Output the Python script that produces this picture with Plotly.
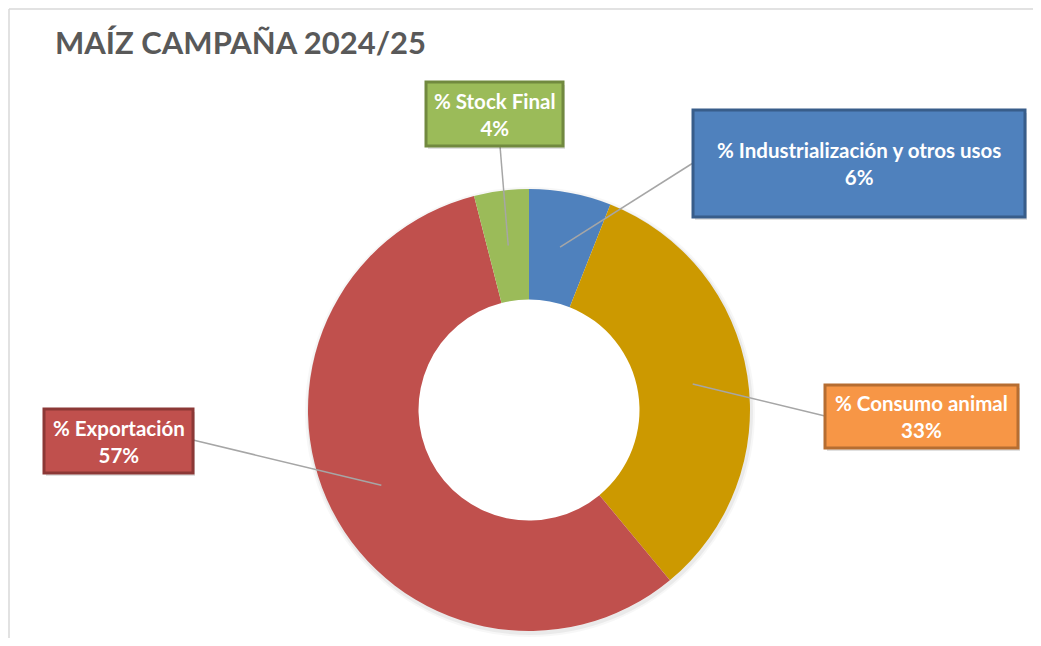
import math
import plotly.graph_objects as go

# the page body keeps an 8px margin, so the figure is drawn 8px in from the window corner
# and kept small enough that no scrollbar appears
OFF = 8
W, H = 1041 - 2 * OFF, 646 - 2 * OFF

# data (share of the 2024/25 maize campaign, %)
labels = ["Industrialización y otros usos", "Consumo animal", "Exportación", "Stock Final"]
values = [6, 33, 57, 4]
slice_colors = ["#4F81BD", "#CC9900", "#C0504D", "#9BBB59"]

# label boxes: (x0, y0, x1, y1) in window pixels, fill, border
box_pos = [(693, 110, 1025, 217), (825, 385, 1018, 448), (44, 409, 193, 473), (426, 82, 563, 146)]
box_fill = ["#4F81BD", "#F79646", "#C0504D", "#9BBB59"]
box_line = ["#385D8A", "#B66D31", "#8C3836", "#71893F"]
# where each leader line meets its box
box_hook = [(693, 163), (825, 416), (193, 440), (500, 146)]

# donut geometry in window pixels
pie_left, pie_right, pie_top, pie_bottom = 307, 751, 189, 631
hole = 0.5


def px(x):
    return (x - OFF) / W


def py(y):
    return 1 - (y - OFF) / H


fig = go.Figure()
fig.add_trace(go.Pie(
    labels=labels, values=values, hole=hole, sort=False, direction="clockwise", rotation=0,
    marker=dict(colors=slice_colors, line=dict(width=0)),
    textinfo="none", showlegend=False,
    hovertemplate="%{label}: %{value}%<extra></extra>",
    domain=dict(x=[px(pie_left), px(pie_right)], y=[py(pie_bottom), py(pie_top)]),
))

cx = (pie_left + pie_right) / 2
cy = (pie_top + pie_bottom) / 2
r_out = min(pie_right - pie_left, pie_bottom - pie_top) / 2
r_mid = r_out * (1 + hole) / 2

shapes = []
# chart frame: only its top and left edges fall inside the picture
frame = dict(color="#D9D9D9", width=1.5)
shapes.append(dict(type="line", xref="paper", yref="paper", x0=px(9), y0=py(9), x1=1.0, y1=py(9), line=frame, layer="below"))
shapes.append(dict(type="line", xref="paper", yref="paper", x0=px(9), y0=py(9), x1=px(9), y1=0.0, line=frame, layer="below"))
# soft shadow round the donut edge
for k, a in [(8, 0.03), (4, 0.05)]:
    shapes.append(dict(type="circle", xref="paper", yref="paper",
                       x0=px(cx - r_out + 1), x1=px(cx + r_out + 1),
                       y0=py(cy + r_out + 2), y1=py(cy - r_out + 2),
                       line=dict(width=k, color=f"rgba(0,0,0,{a})"), fillcolor="rgba(0,0,0,0)", layer="below"))

annotations = []
total = sum(values)
cum = 0
for i, (lab, v) in enumerate(zip(labels, values)):
    ang = math.radians((cum + v / 2) / total * 360)
    cum += v
    ax = cx + r_mid * math.sin(ang)
    ay = cy - r_mid * math.cos(ang)
    hx, hy = box_hook[i]
    shapes.append(dict(type="line", xref="paper", yref="paper", x0=px(ax), y0=py(ay), x1=px(hx), y1=py(hy),
                       line=dict(color="#A6A6A6", width=1.5), layer="above"))
    x0, y0, x1, y1 = box_pos[i]
    # small shadow then the box
    shapes.append(dict(type="rect", xref="paper", yref="paper", x0=px(x0 + 2), y0=py(y0 + 3), x1=px(x1 + 2), y1=py(y1 + 3),
                       line=dict(width=0), fillcolor="rgba(0,0,0,0.12)", layer="above"))
    shapes.append(dict(type="rect", xref="paper", yref="paper", x0=px(x0), y0=py(y0), x1=px(x1), y1=py(y1),
                       line=dict(color=box_line[i], width=3), fillcolor=box_fill[i], layer="above"))
    annotations.append(dict(
        x=px((x0 + x1) / 2), y=py((y0 + y1) / 2), xref="paper", yref="paper",
        xanchor="center", yanchor="middle",
        text=f"% {lab}<br>{v}%", showarrow=False, align="center",
        font=dict(family="Lato", size=20.5, color="white", weight="bold"),
    ))

fig.update_layout(
    width=W, height=H,
    margin=dict(l=0, r=0, t=0, b=0),
    paper_bgcolor="white", plot_bgcolor="white",
    title=dict(text="MAÍZ CAMPAÑA 2024/25", x=px(55), xanchor="left", y=py(43), yanchor="middle",
               font=dict(family="Lato", size=31, color="#595959", weight="bold")),
    shapes=shapes,
    annotations=annotations,
)

fig.write_html("out.html")
